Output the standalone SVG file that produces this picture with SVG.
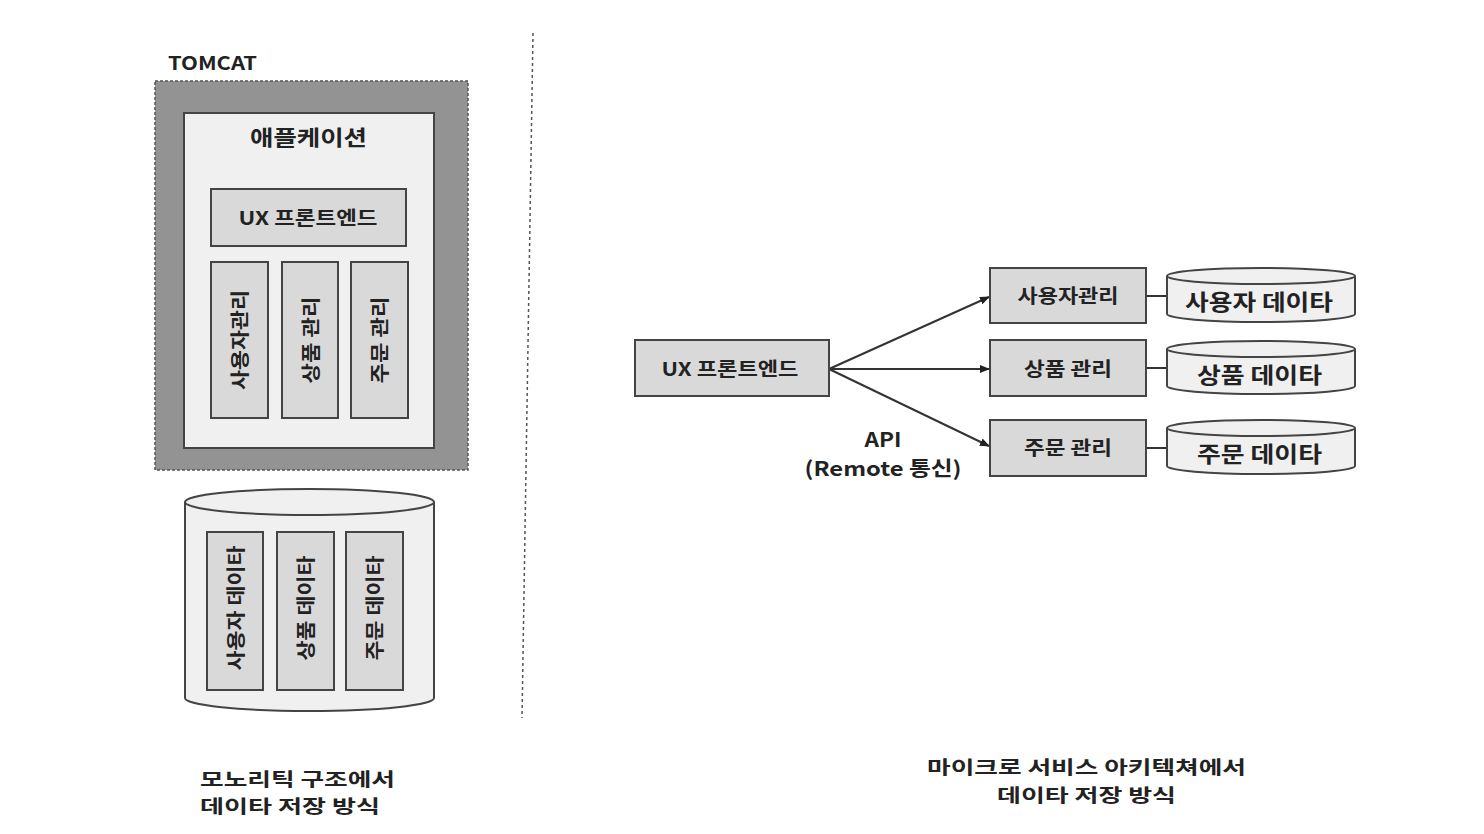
<svg xmlns="http://www.w3.org/2000/svg" width="1484" height="834" viewBox="0 0 1484 834">
<style>
text{font-family:"Noto Sans CJK KR","Liberation Sans",sans-serif;font-weight:bold;fill:#222;}
.box{fill:#d9d9d9;stroke:#444;stroke-width:2;}
.light{fill:#f0f0f0;stroke:#444;stroke-width:2;}
.conn{stroke:#333;stroke-width:2;fill:none;}
.lbl{font-size:19px;}
.big{font-size:22px;}
.cap{font-size:18.5px;}
</style>
<defs>
<marker id="arr" markerWidth="10" markerHeight="10" refX="9" refY="5" orient="auto" markerUnits="userSpaceOnUse">
<path d="M0,1 L10,5 L0,9 Z" fill="#222"/>
</marker>
</defs>
<rect width="1484" height="834" fill="#fff"/>

<line x1="533" y1="33" x2="522" y2="718" stroke="#555" stroke-width="1.5" stroke-dasharray="3,3"/>

<g id="tomcat">
<text x="168" y="70" style="font-size:19px" textLength="89" lengthAdjust="spacingAndGlyphs">TOMCAT</text>
<rect x="155" y="81" width="313" height="389" fill="#939393" stroke="#555" stroke-width="1.5" stroke-dasharray="3,2"/>
</g>
<g id="app">
<rect x="184" y="113" width="250" height="335" class="light"/>
<text x="308.5" y="145" style="font-size:21px" text-anchor="middle" textLength="117" lengthAdjust="spacingAndGlyphs">애플케이션</text>
</g>
<g id="ux-mono">
<rect x="211" y="189" width="195" height="57" class="box"/>
<text x="308" y="225" class="lbl" text-anchor="middle" textLength="139" lengthAdjust="spacingAndGlyphs">UX 프론트엔드</text>
</g>
<g id="user-mono">
<rect x="211" y="262" width="57" height="156" class="box"/>
<text transform="translate(240,340) rotate(-90)" class="lbl" text-anchor="middle" dy="7" textLength="100" lengthAdjust="spacingAndGlyphs">사용자관리</text>
</g>
<g id="product-mono">
<rect x="282" y="262" width="56" height="156" class="box"/>
<text transform="translate(311,340) rotate(-90)" class="lbl" text-anchor="middle" dy="7" textLength="87" lengthAdjust="spacingAndGlyphs">상품 관리</text>
</g>
<g id="order-mono">
<rect x="351" y="262" width="57" height="156" class="box"/>
<text transform="translate(380,340) rotate(-90)" class="lbl" text-anchor="middle" dy="7" textLength="87" lengthAdjust="spacingAndGlyphs">주문 관리</text>
</g>

<g id="db-mono">
<path d="M185,502 L185,698 A124.5,13 0 0 0 434,698 L434,502" class="light"/>
<ellipse cx="309.5" cy="502" rx="124.5" ry="13" class="light"/>
</g>
<g id="userdata-mono">
<rect x="207" y="532" width="56" height="158" class="box"/>
<text transform="translate(236,608) rotate(-90)" class="lbl" text-anchor="middle" dy="7" textLength="125" lengthAdjust="spacingAndGlyphs">사용자 데이타</text>
</g>
<g id="productdata-mono">
<rect x="277" y="532" width="57" height="158" class="box"/>
<text transform="translate(306,608) rotate(-90)" class="lbl" text-anchor="middle" dy="7" textLength="105" lengthAdjust="spacingAndGlyphs">상품 데이타</text>
</g>
<g id="orderdata-mono">
<rect x="346" y="532" width="57" height="158" class="box"/>
<text transform="translate(375,608) rotate(-90)" class="lbl" text-anchor="middle" dy="7" textLength="105" lengthAdjust="spacingAndGlyphs">주문 데이타</text>
</g>

<g id="caption-left">
<text x="200" y="786" class="cap" textLength="195" lengthAdjust="spacingAndGlyphs">모노리틱 구조에서</text>
<text x="200" y="813" class="cap" textLength="180" lengthAdjust="spacingAndGlyphs">데이타 저장 방식</text>
</g>

<g id="connectors">
<line x1="829" y1="369" x2="989" y2="297" class="conn" marker-end="url(#arr)"/>
<line x1="829" y1="369" x2="989" y2="369" class="conn" marker-end="url(#arr)"/>
<line x1="829" y1="369" x2="989" y2="446" class="conn" marker-end="url(#arr)"/>
<line x1="1146" y1="296" x2="1167" y2="296" class="conn"/>
<line x1="1146" y1="368" x2="1167" y2="368" class="conn"/>
<line x1="1146" y1="448" x2="1167" y2="448" class="conn"/>
</g>

<g id="api-label">
<text x="883" y="447" style="font-size:20px" text-anchor="middle" textLength="37" lengthAdjust="spacingAndGlyphs">API</text>
<text x="883" y="476" style="font-size:20px" text-anchor="middle" textLength="157" lengthAdjust="spacingAndGlyphs">(Remote 통신)</text>
</g>

<g id="ux-ms">
<rect x="635" y="340" width="194" height="56" class="box"/>
<text x="730" y="376" class="lbl" text-anchor="middle" textLength="137" lengthAdjust="spacingAndGlyphs">UX 프론트엔드</text>
</g>
<g id="user-ms">
<rect x="990" y="268" width="156" height="55" class="box"/>
<text x="1068" y="303" class="lbl" text-anchor="middle" textLength="101" lengthAdjust="spacingAndGlyphs">사용자관리</text>
</g>
<g id="product-ms">
<rect x="990" y="340" width="156" height="56" class="box"/>
<text x="1068" y="376" class="lbl" text-anchor="middle" textLength="88" lengthAdjust="spacingAndGlyphs">상품 관리</text>
</g>
<g id="order-ms">
<rect x="990" y="420" width="156" height="56" class="box"/>
<text x="1068" y="455" class="lbl" text-anchor="middle" textLength="88" lengthAdjust="spacingAndGlyphs">주문 관리</text>
</g>

<g id="userdata-ms">
<path d="M1167,276 L1167,314 A94,8 0 0 0 1355,314 L1355,276" class="light"/>
<ellipse cx="1261" cy="276" rx="94" ry="8" class="light"/>
<text x="1259" y="310" class="big" text-anchor="middle" textLength="148" lengthAdjust="spacingAndGlyphs">사용자 데이타</text>
</g>
<g id="productdata-ms">
<path d="M1167,349 L1167,386 A94,8 0 0 0 1355,386 L1355,349" class="light"/>
<ellipse cx="1261" cy="349" rx="94" ry="8" class="light"/>
<text x="1259.5" y="383" class="big" text-anchor="middle" textLength="125" lengthAdjust="spacingAndGlyphs">상품 데이타</text>
</g>
<g id="orderdata-ms">
<path d="M1167,428 L1167,466 A94,8 0 0 0 1355,466 L1355,428" class="light"/>
<ellipse cx="1261" cy="428" rx="94" ry="8" class="light"/>
<text x="1259.5" y="462" class="big" text-anchor="middle" textLength="125" lengthAdjust="spacingAndGlyphs">주문 데이타</text>
</g>

<g id="caption-right">
<text x="1086.5" y="774" class="cap" text-anchor="middle" textLength="319" lengthAdjust="spacingAndGlyphs">마이크로 서비스 아키텍쳐에서</text>
<text x="1086.5" y="802" class="cap" text-anchor="middle" textLength="179" lengthAdjust="spacingAndGlyphs">데이타 저장 방식</text>
</g>
</svg>
